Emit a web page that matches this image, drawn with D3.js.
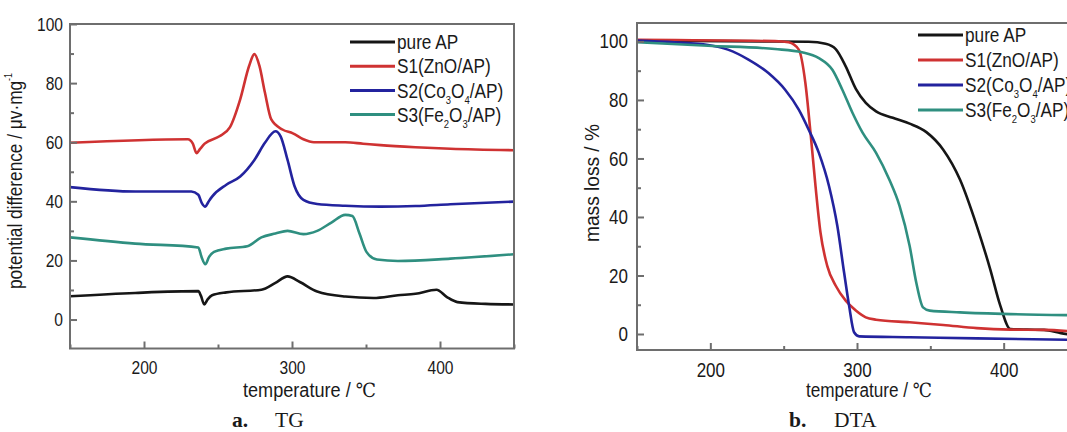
<!DOCTYPE html>
<html>
<head>
<meta charset="utf-8">
<script src="https://cdn.jsdelivr.net/npm/d3@7"></script>
<style>
  html, body { margin: 0; padding: 0; background: #fff; overflow: hidden; }
  svg { display: block; }
  .sans { font-family: "Liberation Sans Narrow", "Arial Narrow", "Liberation Sans", Arial, sans-serif; fill: #1a1a1a; }
  .serif { font-family: "Liberation Serif", "Times New Roman", serif; fill: #1a1a1a; }
</style>
</head>
<body>
<svg id="fig" width="1067" height="432"></svg>
<script>
// ---- Series names and colours ----
const seriesNames = ["pure AP", "S1(ZnO/AP)", "S2(Co3O4/AP)", "S3(Fe2O3/AP)"];
const seriesColors = ["#161616", "#cf3232", "#23239e", "#2f8f80"];

// ---- Axis ticks ----
const xTicks = [200, 300, 400];
const xMinorTicks = [150, 250, 350, 450];
const yTicksA = [0, 20, 40, 60, 80, 100];
const yMinorTicksA = [10, 30, 50, 70, 90];
const yTicksB = [0, 20, 40, 60, 80, 100];
const yMinorTicksB = [10, 30, 50, 70, 90];

// ---- Panel a: potential difference (µV/mg) vs temperature (°C) ----
const aPureT = [150, 194, 236.7, 238.5, 240.7, 243, 246, 255.6, 279.3, 288.8, 297, 305.3, 317, 336, 355, 371.6, 383.4, 397.6, 404.7, 411.8, 430.8, 450];
const aPureV = [7.9, 9.0, 9.6, 8.0, 5.1, 6.8, 8.2, 9.2, 10.1, 12.4, 14.6, 12.7, 9.5, 7.8, 7.3, 8.2, 8.7, 10.1, 7.6, 5.9, 5.3, 5.1];

const aS1T = [150, 229.6, 233, 235.5, 238, 241, 251, 258, 265, 271, 274.6, 278, 281.7, 286, 293.5, 300.6, 307.7, 314.8, 336, 348, 359.8, 383.4, 407, 450];
const aS1V = [59.8, 61.0, 59.5, 56.3, 57.8, 59.5, 62.0, 65.0, 74.5, 85.8, 89.8, 85.8, 76.8, 67.7, 64.3, 63.0, 61.0, 60.0, 60.0, 59.5, 59.0, 58.3, 57.8, 57.3];

const aS2T = [150, 194, 232, 236.7, 239, 241.4, 243.5, 246, 255.6, 265, 274.6, 281.7, 288.8, 292.3, 297, 301.8, 307.7, 317, 336, 359.8, 383.4, 407, 450];
const aS2V = [44.8, 43.3, 43.3, 42.2, 39.5, 38.2, 39.8, 41.6, 45.6, 48.4, 54.0, 59.8, 63.7, 62.0, 54.0, 45.0, 40.5, 39.1, 38.5, 38.2, 38.4, 39.0, 39.9];

const aS3T = [150, 194, 236.7, 239, 241.4, 244, 247.3, 255.6, 269.8, 279.3, 288.8, 297, 307.7, 317, 326.6, 336, 340.8, 345.6, 350.3, 357.4, 371.6, 407, 450];
const aS3V = [27.8, 25.7, 24.4, 21.0, 18.7, 21.2, 22.9, 24.0, 24.8, 27.8, 29.1, 30.0, 28.9, 30.0, 32.8, 35.4, 35.0, 29.1, 22.9, 20.3, 19.8, 20.6, 22.1];

// ---- Panel b: mass loss (%) vs temperature (°C) ----
const bPureT = [150, 244, 267, 278.6, 285.5, 292.3, 299.2, 306, 313, 324.4, 335.9, 347.3, 358.8, 370.2, 381.7, 390.8, 397.7, 404.6, 416, 427.5, 439, 450];
const bPureV = [100.3, 100.0, 99.9, 99.2, 97.4, 91.5, 83.8, 79.0, 76.1, 73.9, 71.9, 69.0, 63.0, 52.8, 36.9, 22.2, 9.7, 1.7, 1.5, 1.4, 0.3, -0.6];

const bS1T = [150, 244, 253.4, 260.3, 264.8, 268.3, 271.7, 275.1, 279.7, 285.5, 292.3, 299.2, 306, 313, 335.9, 358.8, 381.7, 404.6, 427.5, 450];
const bS1V = [100.6, 100.1, 99.7, 97.2, 85.8, 68.8, 50.6, 34.7, 23.3, 16.5, 11.4, 8.0, 5.7, 4.9, 4.0, 3.1, 2.0, 1.5, 1.4, 0.8];

const bS2T = [150, 175.5, 198.4, 212, 226, 239.6, 251, 260.3, 267, 274, 280.9, 286.6, 291.2, 294.6, 298, 301.5, 335.9, 381.7, 450];
const bS2V = [100.3, 99.7, 98.8, 97.2, 93.8, 89.2, 83.5, 76.7, 69.9, 61.9, 50.6, 36.9, 21.0, 9.7, 0.6, -0.8, -1.1, -1.5, -2.0];

const bS3T = [150, 198.4, 244, 262.5, 274, 283.2, 290, 296.9, 303.8, 313, 322, 329, 335.9, 340.4, 345, 349.6, 370.2, 404.6, 450];
const bS3V = [99.7, 98.5, 97.4, 96.3, 94.3, 90.3, 83.5, 75.6, 68.8, 61.9, 52.8, 43.8, 30.1, 17.6, 9.1, 8.0, 7.4, 6.8, 6.4];

const panelA = [[aPureT, aPureV], [aS1T, aS1V], [aS2T, aS2V], [aS3T, aS3V]];
const panelB = [[bPureT, bPureV], [bS1T, bS1V], [bS2T, bS2V], [bS3T, bS3V]];

const svg = d3.select("#fig");

// Squeeze text horizontally to a narrow face by a factor k
function condense(sel, k) {
  sel.each(function () {
    const w = this.getComputedTextLength();
    d3.select(this).attr("textLength", (w * k).toFixed(1)).attr("lengthAdjust", "spacingAndGlyphs");
  });
}
// Fit text to an exact width
function fitWidth(sel, w) {
  sel.attr("textLength", w).attr("lengthAdjust", "spacingAndGlyphs");
}

// Write a legend label, rendering digits inside the formula as subscripts
function labelWithSubscripts(textSel, label, fs) {
  const m = label.match(/^(S\d)\((.*)\)$/);
  if (!m) { textSel.text(label); return; }
  textSel.append("tspan").text(m[1] + "(");
  const shift = fs * 0.3;
  let lowered = false;
  const parts = m[2].split(/(\d)/).filter(s => s.length);
  parts.forEach(p => {
    if (/^\d$/.test(p)) {
      textSel.append("tspan").attr("font-size", fs * 0.55).attr("dy", shift).text(p);
      lowered = true;
    } else {
      const t = textSel.append("tspan").text(p);
      if (lowered) { t.attr("dy", -shift); lowered = false; }
    }
  });
  const close = textSel.append("tspan").text(")");
  if (lowered) close.attr("dy", -shift);
}

function drawPanel(cfg) {
  const g = svg.append("g");
  const x = d3.scaleLinear().domain([150, 450]).range([cfg.left, cfg.right]);
  const y = d3.scaleLinear().domain(cfg.yDomain).range([cfg.bottom, cfg.top]);

  const clipId = "clip-" + cfg.id;
  svg.append("clipPath").attr("id", clipId)
    .append("rect").attr("x", cfg.left).attr("y", cfg.top)
    .attr("width", cfg.right - cfg.left).attr("height", cfg.bottom - cfg.top);

  // Curves
  const line = d3.line().x(d => x(d[0])).y(d => y(d[1])).curve(d3.curveMonotoneX);
  const curves = g.append("g").attr("clip-path", `url(#${clipId})`);
  cfg.data.forEach(([ts, vs], i) => {
    const pts = ts.map((t, k) => [t, vs[k]]);
    curves.append("path").attr("d", line(pts))
      .attr("fill", "none").attr("stroke", seriesColors[i])
      .attr("stroke-width", 2.6).attr("stroke-linejoin", "round").attr("stroke-linecap", "round");
  });

  // Frame
  g.append("rect").attr("x", cfg.left).attr("y", cfg.top)
    .attr("width", cfg.right - cfg.left).attr("height", cfg.bottom - cfg.top)
    .attr("fill", "none").attr("stroke", "#6e6e6e").attr("stroke-width", 2);

  // Inward ticks
  const bottomAxis = d3.axisBottom(x).tickValues(xTicks).tickSizeInner(-7).tickSizeOuter(0).tickPadding(12);
  const ax = g.append("g").attr("transform", `translate(0,${cfg.bottom})`).call(bottomAxis);
  ax.select(".domain").remove();
  ax.selectAll(".tick line").attr("stroke", "#6e6e6e").attr("stroke-width", 2);
  const axText = ax.selectAll(".tick text").attr("class", "sans").attr("font-size", cfg.tickFont).attr("dy", "0.72em").attr("fill", "#1a1a1a");
  condense(axText, cfg.tickK);
  const bottomMinor = d3.axisBottom(x).tickValues(xMinorTicks).tickSizeInner(-4).tickSizeOuter(0).tickFormat("");
  const axm = g.append("g").attr("transform", `translate(0,${cfg.bottom})`).call(bottomMinor);
  axm.select(".domain").remove();
  axm.selectAll(".tick line").attr("stroke", "#6e6e6e").attr("stroke-width", 2);

  const leftAxis = d3.axisLeft(y).tickValues(cfg.yTicks).tickSizeInner(-7).tickSizeOuter(0).tickPadding(cfg.yPad);
  const ay = g.append("g").attr("transform", `translate(${cfg.left},0)`).call(leftAxis);
  ay.select(".domain").remove();
  ay.selectAll(".tick line").attr("stroke", "#6e6e6e").attr("stroke-width", 2);
  const ayText = ay.selectAll(".tick text").attr("class", "sans").attr("font-size", cfg.tickFont).attr("fill", "#1a1a1a");
  condense(ayText, cfg.tickK);
  const leftMinor = d3.axisLeft(y).tickValues(cfg.yMinor).tickSizeInner(-4).tickSizeOuter(0).tickFormat("");
  const aym = g.append("g").attr("transform", `translate(${cfg.left},0)`).call(leftMinor);
  aym.select(".domain").remove();
  aym.selectAll(".tick line").attr("stroke", "#6e6e6e").attr("stroke-width", 2);

  // Legend
  const lg = g.append("g");
  seriesNames.forEach((name, i) => {
    const ly = cfg.legendY + i * cfg.legendGap;
    lg.append("line").attr("x1", cfg.legendX).attr("x2", cfg.legendX + 45)
      .attr("y1", ly).attr("y2", ly).attr("stroke", seriesColors[i]).attr("stroke-width", 3);
    const t = lg.append("text").attr("class", "sans").attr("x", cfg.legendX + 47).attr("y", ly)
      .attr("dy", "0.36em").attr("font-size", cfg.legendFont);
    labelWithSubscripts(t, name, cfg.legendFont);
    condense(t, 0.86);
  });

  // Axis titles
  const xt = g.append("text").attr("class", "sans").attr("x", cfg.xTitleX).attr("y", 397)
    .attr("font-size", 19.5);
  xt.append("tspan").text("temperature / ");
  xt.append("tspan").attr("font-family", "'Liberation Serif', 'DejaVu Serif', serif").text("\u2103");
  fitWidth(xt, cfg.xTitleW);

  const yt = g.append("text").attr("class", "sans")
    .attr("transform", `translate(${cfg.yTitleX},${cfg.yTitleY}) rotate(-90)`)
    .attr("text-anchor", "middle").attr("font-size", 19.5);
  cfg.yTitle(yt);
  fitWidth(yt, cfg.yTitleW);

  // Caption
  const cap = g.append("text").attr("class", "serif").attr("x", cfg.capX).attr("y", 427).attr("font-size", 21.5);
  cap.append("tspan").attr("font-weight", "bold").text(cfg.capLetter);
  cap.append("tspan").attr("x", cfg.capX + cfg.capGap).text(cfg.capText);
}

drawPanel({
  id: "a", left: 70, right: 514, top: 24, bottom: 348.5, yDomain: [-9.8, 100],
  yTicks: yTicksA, yMinor: yMinorTicksA, data: panelA, tickFont: 19, tickK: 0.82, yPad: 7,
  legendX: 350, legendY: 42, legendGap: 24.2, legendFont: 20,
  xTitleX: 243, xTitleW: 133, yTitleX: 22, yTitleY: 181, yTitleW: 216,
  yTitle: t => {
    t.append("tspan").text("potential difference / \u03BCv\u00B7mg");
    t.append("tspan").attr("font-size", 10).attr("dy", -10).text("-1");
  },
  capX: 232, capGap: 43, capLetter: "a.", capText: "TG"
});

drawPanel({
  id: "b", left: 637, right: 1077, top: 23, bottom: 350, yDomain: [-5.47, 106.3],
  yTicks: yTicksB, yMinor: yMinorTicksB, data: panelB, tickFont: 20.5, tickK: 0.83, yPad: 9,
  legendX: 918, legendY: 35, legendGap: 25, legendFont: 20,
  xTitleX: 806, xTitleW: 126, yTitleX: 599, yTitleY: 183, yTitleW: 118,
  yTitle: t => { t.text("mass loss / %"); },
  capX: 789, capGap: 45, capLetter: "b.", capText: "DTA"
});
</script>
</body>
</html>
